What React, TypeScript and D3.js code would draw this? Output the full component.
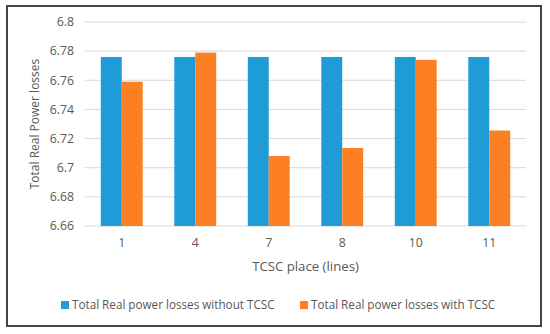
import * as d3 from 'd3';
import React from 'react';

// place of the TCSC (line numbers) and the losses
const places = ['1', '4', '7', '8', '10', '11'];
const withoutTcsc = [6.776, 6.776, 6.776, 6.776, 6.776, 6.776];
const withTcsc = [6.759, 6.779, 6.708, 6.7135, 6.774, 6.7255];
const yTicks = [6.66, 6.68, 6.7, 6.72, 6.74, 6.76, 6.78, 6.8];
const seriesNames = ['Total Real power losses without TCSC', 'Total Real power losses with TCSC'];
const colors = ['#1f9cd8', '#fd7f23'];

const W = 550;
const H = 334;
const plot = { left: 85, right: 526, top: 22, bottom: 226 };
const font = '"Open Sans", sans-serif';

export default function App() {
  const x = d3.scaleBand().domain(places).range([plot.left, plot.right]).paddingInner(0.43).paddingOuter(0.215);
  const x1 = d3.scaleBand().domain(['0', '1']).range([0, x.bandwidth()]);
  const y = d3.scaleLinear().domain([6.66, 6.8]).range([plot.bottom, plot.top]);
  const series = [withoutTcsc, withTcsc];

  return (
    <svg width={W} height={H} style={{ position: 'absolute', left: 0, top: 0, background: '#fff' }} fontFamily={font}>
      <rect x={7} y={6} width={534} height={320} fill="#fff" stroke="#444" strokeWidth={2} />
      {yTicks.map(t => (
        <g key={t}>
          <line x1={plot.left} x2={plot.right} y1={y(t)} y2={y(t)} stroke="#d9d9d9" strokeWidth={1} />
          <text x={plot.left - 11} y={y(t)} dy="0.35em" textAnchor="end" fontSize={12.3} fill="#595959">
            {d3.format('')(t)}
          </text>
        </g>
      ))}
      {places.map((p, i) => (
        <g key={p}>
          {series.map((s, k) => (
            <rect
              key={k}
              x={(x(p) as number) + (x1(String(k)) as number)}
              y={y(s[i])}
              width={x1.bandwidth()}
              height={y(6.66) - y(s[i])}
              fill={colors[k]}
            />
          ))}
          <text x={(x(p) as number) + x.bandwidth() / 2} y={243} dy="0.35em" textAnchor="middle" fontSize={12.3} fill="#595959">
            {p}
          </text>
        </g>
      ))}
      <text x={(plot.left + plot.right) / 2} y={266} dy="0.35em" textAnchor="middle" fontSize={13.2} fill="#595959">
        TCSC place (lines)
      </text>
      <text transform={`translate(35,${(plot.top + plot.bottom) / 2}) rotate(-90)`} dy="0.35em" textAnchor="middle" fontSize={12} fill="#595959">
        Total Real Power losses
      </text>
      {seriesNames.map((n, k) => (
        <g key={n} transform={`translate(${k === 0 ? 61 : 300},305)`}>
          <rect x={0} y={-4} width={8} height={8} fill={colors[k]} />
          <text x={11} y={0} dy="0.35em" fontSize={11.7} fill="#595959">
            {n}
          </text>
        </g>
      ))}
    </svg>
  );
}
